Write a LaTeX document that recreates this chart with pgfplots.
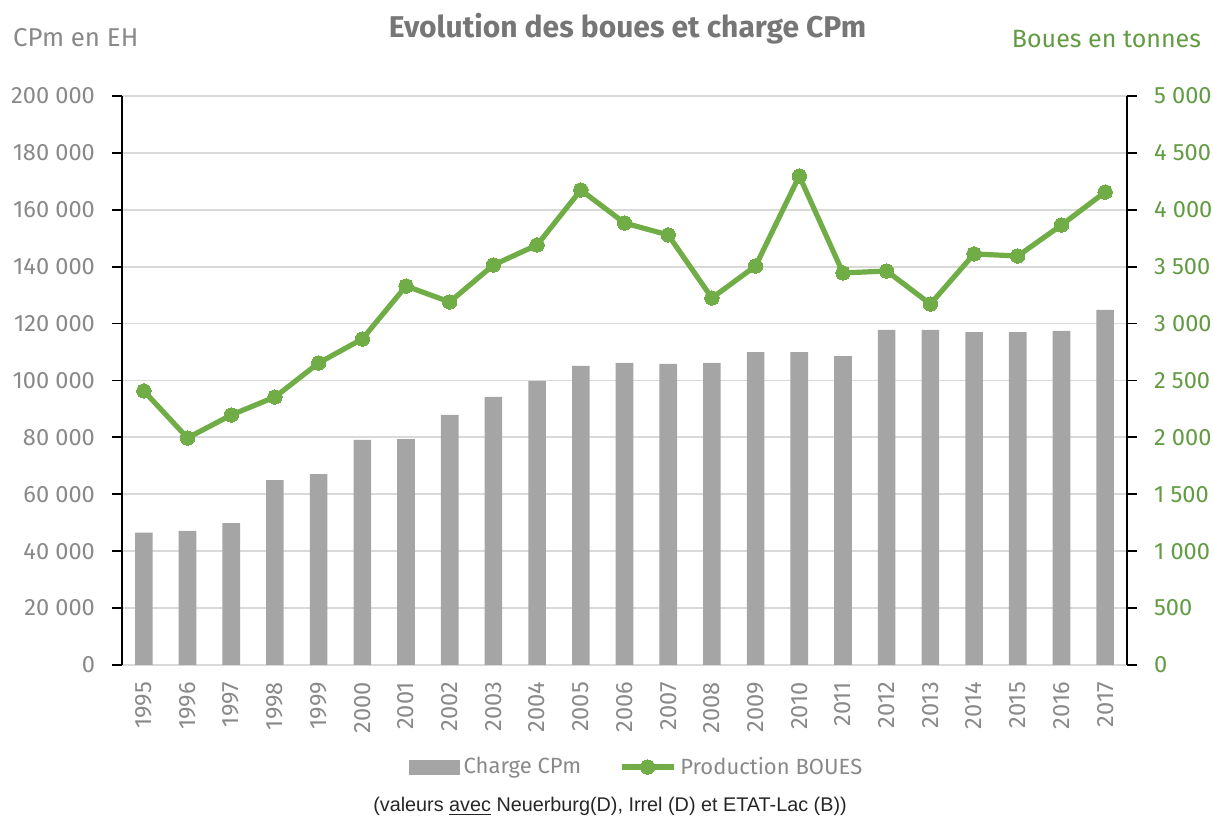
\documentclass[border=0pt]{standalone}
\usepackage{pgfplots}
\pgfplotsset{compat=1.18}
\usepackage{fontspec}
\setmainfont{Fira Sans}
\newfontfamily\arialfont{Liberation Sans}
\definecolor{barc}{RGB}{165,165,165}
\definecolor{linec}{RGB}{112,173,71}
\definecolor{greentxt}{RGB}{98,155,66}
\definecolor{txtgray}{RGB}{137,137,137}
\definecolor{titlegray}{RGB}{118,118,118}
\definecolor{gridc}{RGB}{217,217,217}
\begin{document}
\begin{tikzpicture}
\pgfplotsset{
  common/.style={
    scale only axis, width=502.5pt, height=284.5pt,
    xmin=-0.5, xmax=22.5,
    tick label style={font=\fontsize{11.8}{13}\selectfont},
    scaled y ticks=false,
    tick align=outside, major tick length=5pt,
    axis line style={-},
    xtick={0,1,2,3,4,5,6,7,8,9,10,11,12,13,14,15,16,17,18,19,20,21,22},
    xticklabels={1995,1996,1997,1998,1999,2000,2001,2002,2003,2004,2005,2006,2007,2008,2009,2010,2011,2012,2013,2014,2015,2016,2017},
  }
}
\begin{axis}[common,
  ymin=0, ymax=200000,
  ytick={0,20000,40000,60000,80000,100000,120000,140000,160000,180000,200000},
  yticklabels={0,20 000,40 000,60 000,80 000,100 000,120 000,140 000,160 000,180 000,200 000},
  axis y line*=left, axis x line*=bottom,
  y axis line style={black, line width=0.9pt},
  x axis line style={gridc, line width=0.9pt},
  ytick style={black, line width=0.9pt},
  xtick style={draw=none},
  yticklabel style={text=txtgray, xshift=-5pt},
  xticklabel style={text=txtgray, rotate=90, anchor=east},
  ymajorgrids, major grid style={gridc, line width=0.9pt},
]
\addplot[ybar, bar width=8.8pt, fill=barc, draw=none] coordinates {
(0,46500) (1,47100) (2,49900) (3,65000) (4,67100) (5,79100) (6,79400)
(7,87900) (8,94200) (9,99800) (10,105100) (11,106200) (12,105800)
(13,106200) (14,110000) (15,110000) (16,108600) (17,117800) (18,117800)
(19,117000) (20,117000) (21,117400) (22,124800)};
\end{axis}
\begin{axis}[common,
  ymin=0, ymax=5000,
  ytick={0,500,1000,1500,2000,2500,3000,3500,4000,4500,5000},
  yticklabels={0,500,1 000,1 500,2 000,2 500,3 000,3 500,4 000,4 500,5 000},
  axis y line*=right, axis x line=none,
  y axis line style={black, line width=0.9pt},
  ytick style={black, line width=0.9pt},
  yticklabel style={text=greentxt, xshift=5pt},
  legend style={at={(0.5,0)}, anchor=center, yshift=-51pt, xshift=6.5pt,
    draw=none, fill=none, legend columns=2,
    font=\fontsize{11}{13}\selectfont, text=txtgray,
    /tikz/every even column/.append style={column sep=17pt}},
  legend cell align=left,
]
\addlegendimage{legend image code/.code={\fill[barc] (0pt,-3.5pt) rectangle (25pt,3.5pt);}}
\addlegendentry{Charge CPm}
\addplot[linec, line width=2.6pt, mark=*, mark size=3.6pt,
  mark options={fill=linec, draw=linec, line width=0pt},
  legend image code/.code={\draw[mark repeat=2,mark phase=2] plot coordinates {(0pt,0pt) (13pt,0pt) (26pt,0pt)};}]
coordinates {
(0,2408) (1,1995) (2,2197) (3,2355) (4,2654) (5,2865) (6,3330)
(7,3190) (8,3515) (9,3691) (10,4174) (11,3884) (12,3779)
(13,3225) (14,3506) (15,4297) (16,3445) (17,3462) (18,3172)
(19,3612) (20,3594) (21,3866) (22,4156)};
\addlegendentry{Production BOUES}
\end{axis}
\node[anchor=west, text=txtgray, font=\fontsize{12.9}{15}\selectfont] at ([xshift=-58pt, yshift=29pt]current axis.north west) {CPm en EH};
\node[anchor=east, text=greentxt, font=\fontsize{12.5}{15}\selectfont] at ([xshift=40.5pt, yshift=28.5pt]current axis.north east) {Boues en tonnes};
\node[text=titlegray, font=\fontsize{15}{18}\selectfont\bfseries] at ([xshift=1.5pt, yshift=33.5pt]current axis.north) {Evolution des boues et charge CPm};
\node[text=black!85, font=\arialfont\fontsize{9.9}{12}\selectfont] at ([xshift=-7.25pt, yshift=-70.5pt]current axis.south) {(valeurs \underline{avec} Neuerburg(D), Irrel (D) et ETAT-Lac (B))};
\pgfresetboundingbox
\path[use as bounding box] ([xshift=-61pt,yshift=-78.5pt]current axis.south west) rectangle ++(606.5pt,411pt);
\end{tikzpicture}
\end{document}
